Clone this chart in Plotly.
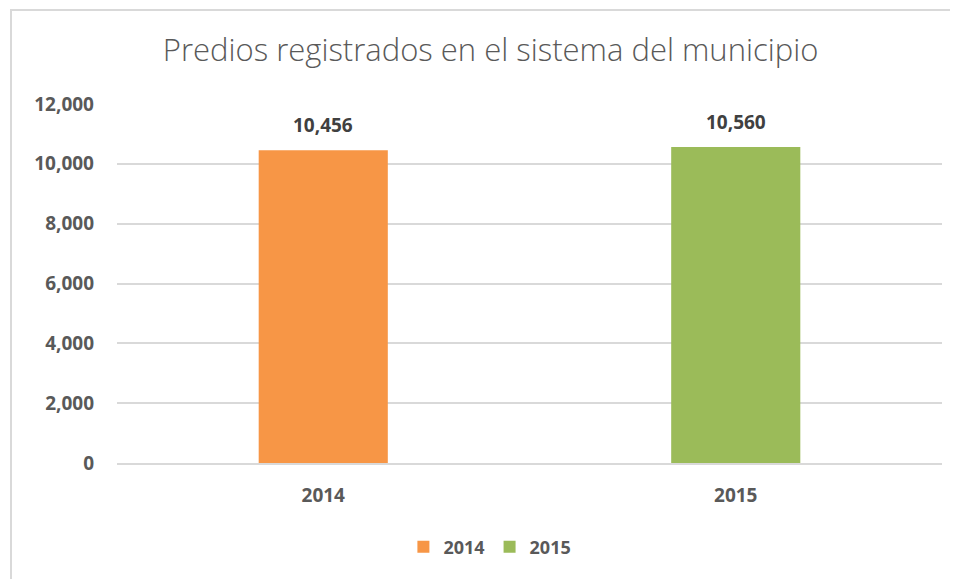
import plotly.graph_objects as go

categories = ["2014", "2015"]
values = [10456, 10560]
colors = ["#F79646", "#9BBB59"]
y_ticks = [0, 2000, 4000, 6000, 8000, 10000, 12000]
y_tick_labels = ["0", "2,000", "4,000", "6,000", "8,000", "10,000", "12,000"]
title_text = "Predios registrados en el sistema del municipio"

fig = go.Figure()
for i, (cat, val, col) in enumerate(zip(categories, values, colors)):
    fig.add_trace(go.Bar(
        x=[cat], y=[val], name=cat, marker_color=col, marker_line_width=0, width=0.313,
    ))
    fig.add_annotation(x=i, y=val, text=f"{val:,}", showarrow=False,
                       xref="x", yref="y", yanchor="middle", yshift=25,
                       font=dict(family="Open Sans", size=19, color="#404040", weight="bold"))

fig.update_layout(
    width=950, height=571,
    margin=dict(l=109, r=16, t=96, b=116),
    paper_bgcolor="white", plot_bgcolor="white",
    barmode="overlay",
    title=dict(text=title_text, x=0.508, xanchor="center", y=0.926, yanchor="middle",
               font=dict(family="Open Sans", size=31, color="#595959", weight=300)),
    showlegend=True,
    legend=dict(orientation="h", x=0.452, xanchor="center", y=-0.234, yanchor="middle",
                font=dict(family="Open Sans", size=18, color="#595959", weight="bold"),
                itemwidth=30, traceorder="normal"),
    xaxis=dict(type="category", categoryorder="array", categoryarray=categories,
               range=[-0.5, 1.5],
               tickfont=dict(family="Open Sans", size=19, color="#595959", weight="bold"),
               showgrid=False, showline=True, linecolor="#D9D9D9", linewidth=1.5,
               ticks="", ticklabelstandoff=14),
    yaxis=dict(range=[0, 12000], tickvals=y_ticks, ticktext=y_tick_labels,
               tickfont=dict(family="Open Sans", size=19, color="#595959", weight="bold"),
               showgrid=True, gridcolor="#D9D9D9", gridwidth=1.5, zeroline=False,
               showline=False, ticks="", ticklabelstandoff=22),
    shapes=[dict(type="rect", xref="paper", yref="paper",
                 x0=-0.1285, x1=1.05, y0=-0.4, y1=1.2618,
                 line=dict(color="#D9D9D9", width=2), fillcolor="rgba(0,0,0,0)", layer="below")],
)

fig.write_html("out.html")
